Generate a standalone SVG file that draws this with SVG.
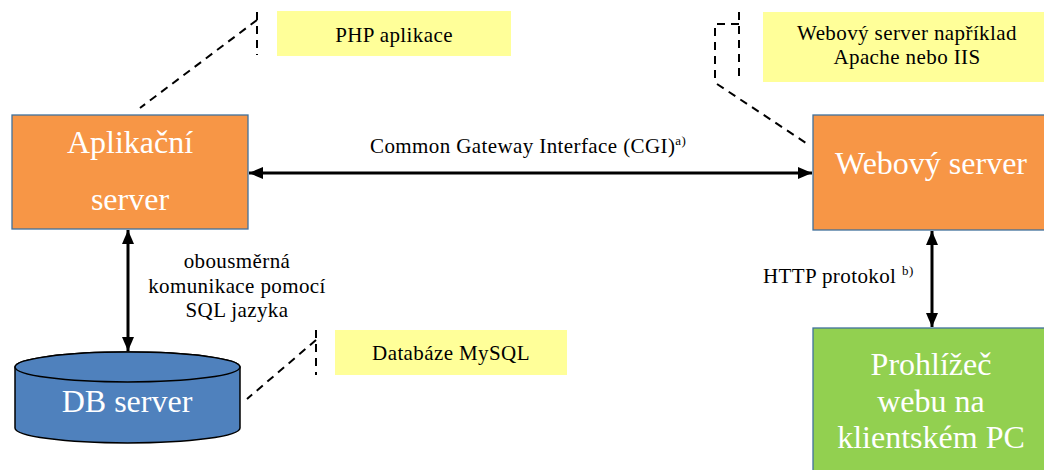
<svg xmlns="http://www.w3.org/2000/svg" width="1044" height="470" viewBox="0 0 1044 470">
<defs>
<marker id="ah" viewBox="0 0 14 12" refX="14" refY="6" markerWidth="14" markerHeight="12" markerUnits="userSpaceOnUse" orient="auto-start-reverse">
<path d="M0,0 L14,6 L0,12 Z" fill="#000"/>
</marker>
</defs>
<style>
.box{stroke:#41719C;stroke-width:1.3}
.big{font-family:"Liberation Serif","Times New Roman",serif;font-size:32px;fill:#fff;text-anchor:middle}
.sm{font-family:"Liberation Serif","Times New Roman",serif;font-size:21px;letter-spacing:0.4px;fill:#000}
.mid{text-anchor:middle}
.note{fill:#FFFF99}
.dash{fill:none;stroke:#000;stroke-width:2;stroke-dasharray:8,6}
.conn{stroke:#000;stroke-width:3;fill:none}
</style>
<g id="callout-php">
<rect class="note" x="277" y="11" width="234" height="45"/>
<path class="dash" d="M257,12 L257,55 M257,20 L140,108"/>
<text class="sm mid" x="394" y="42">PHP aplikace</text>
</g>
<g id="callout-web">
<rect class="note" x="763" y="12" width="281" height="70"/>
<path class="dash" d="M739,12 L739,82 M739,24 L715,24 L715,83 M717,84 L806,143"/>
<text class="sm mid" x="907" y="40">Webový server například</text>
<text class="sm mid" x="907" y="64">Apache nebo IIS</text>
</g>
<g id="callout-db">
<rect class="note" x="335" y="330" width="232" height="45"/>
<path class="dash" d="M316,330 L316,375 M316,340 L247,399"/>
<text class="sm mid" x="451" y="360">Databáze MySQL</text>
</g>
<g id="app-server">
<rect class="box" x="12" y="115" width="236" height="114" fill="#F79646"/>
<text class="big" x="130" y="153">Aplikační</text>
<text class="big" x="130" y="210">server</text>
</g>
<g id="web-server">
<rect class="box" x="813" y="115" width="232" height="115" fill="#F79646"/>
<text class="big" x="931" y="174">Webový server</text>
</g>
<g id="browser">
<rect class="box" x="813" y="328" width="232" height="145" fill="#92D050"/>
<text class="big" x="931" y="375" font-size="33">Prohlížeč</text>
<text class="big" x="931" y="412" font-size="33">webu na</text>
<text class="big" x="931" y="448" font-size="33">klientském PC</text>
</g>
<g id="db-server">
<path d="M15,367 L15,428 A112.5,15 0 0 0 240,428 L240,367 A112.5,15 0 0 0 15,367 Z" fill="#4F81BD" stroke="#000" stroke-width="1.5"/>
<ellipse cx="127.5" cy="367" rx="112.5" ry="15" fill="#4F81BD" stroke="#000" stroke-width="1.5"/>
<text class="big" x="127" y="412" font-size="31">DB server</text>
</g>
<g id="connectors">
<line class="conn" x1="249" y1="173" x2="812" y2="173" marker-start="url(#ah)" marker-end="url(#ah)"/>
<line class="conn" x1="128" y1="230" x2="128" y2="351" marker-start="url(#ah)" marker-end="url(#ah)"/>
<line class="conn" x1="932" y1="231" x2="932" y2="327" marker-start="url(#ah)" marker-end="url(#ah)"/>
</g>
<g id="labels">
<text class="sm" x="370" y="153">Common Gateway Interface (CGI)<tspan font-size="13" dy="-8">a)</tspan></text>
<text class="sm mid" x="237" y="268">obousměrná</text>
<text class="sm mid" x="237" y="293">komunikace pomocí</text>
<text class="sm mid" x="237" y="317">SQL jazyka</text>
<text class="sm" x="763" y="283">HTTP protokol <tspan font-size="13" dy="-8">b)</tspan></text>
</g>
</svg>
